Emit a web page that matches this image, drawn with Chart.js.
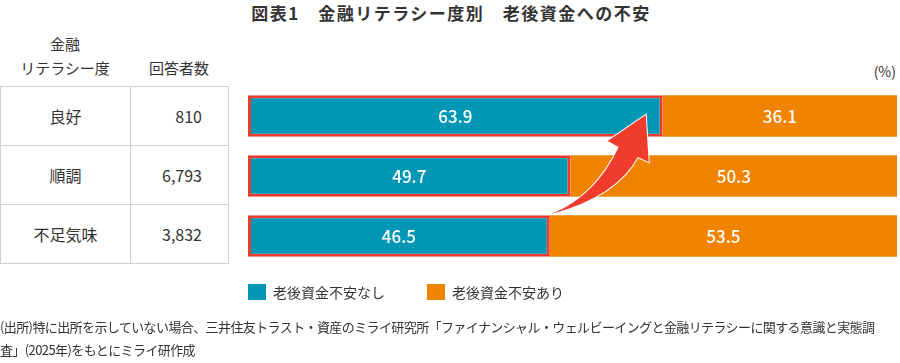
<!DOCTYPE html>
<html>
<head>
<meta charset="utf-8">
<title>金融リテラシー度別 老後資金への不安</title>
<script src="https://cdn.jsdelivr.net/npm/chart.js"></script>
<style>
  body { margin: 0; width: 900px; height: 363px; position: relative; background: #fff;
         font-family: "Noto Sans CJK JP", "Noto Sans", sans-serif; color: #333; overflow: hidden; }
  #chart { position: absolute; left: 0; top: 0; }
  .title { position: absolute; left: 1px; width: 900px; top: 0px; text-align: center;
           font-size: 17px; font-weight: 700; letter-spacing: 1.5px; }
  .head { position: absolute; font-size: 15px; text-align: center; line-height: 24px; }
  .unit { position: absolute; right: 4px; top: 61px; font-size: 14px; }
  table { position: absolute; left: 0; top: 86px; border-collapse: collapse; font-size: 16px; }
  td { border: 1px solid #cfcfcf; height: 58px; padding: 0; }
  td.cat { width: 129px; text-align: center; }
  td.num { width: 97px; text-align: right; padding-right: 0; }
  td.num span { margin-right: 26px; }
  .legend { position: absolute; top: 284px; font-size: 14px; line-height: 16px; }
  .legend i { display: inline-block; width: 18px; height: 16px; vertical-align: top; margin-right: 7px; }
  .note { position: absolute; left: 0; top: 315px; font-size: 13px; line-height: 23px;
          letter-spacing: -0.6px; white-space: nowrap; }
</style>
</head>
<body>
<div class="title">図表1　金融リテラシー度別　老後資金への不安</div>
<div class="head" style="left:0;width:130px;top:32px">金融<br>リテラシー度</div>
<div class="head" style="left:130px;width:98px;top:56px">回答者数</div>
<div class="unit">(%)</div>
<table id="tbl"></table>
<canvas id="chart" width="900" height="363"></canvas>
<div class="legend" id="legend"></div>
<div class="note">(出所)特に出所を示していない場合、三井住友トラスト・資産のミライ研究所「ファイナンシャル・ウェルビーイングと金融リテラシーに関する意識と実態調<br>査」(2025年)をもとにミライ研作成</div>

<script>
  var categories = ["良好", "順調", "不足気味"];
  var respondents = ["810", "6,793", "3,832"];
  var noAnxiety = [63.9, 49.7, 46.5];
  var anxiety = [36.1, 50.3, 53.5];
  var seriesNames = ["老後資金不安なし", "老後資金不安あり"];
  var colors = ["#0097b5", "#f08300"];
  var red = "#f03c2d";

  // table on the left
  var tbl = document.getElementById("tbl");
  categories.forEach(function (c, i) {
    var tr = document.createElement("tr");
    tr.innerHTML = '<td class="cat">' + c + '</td><td class="num"><span>' + respondents[i] + '</span></td>';
    tbl.appendChild(tr);
  });

  // legend
  var lg = document.getElementById("legend");
  lg.style.left = "248px";
  lg.innerHTML = '<i style="background:' + colors[0] + '"></i>' + seriesNames[0] +
    '<i style="background:' + colors[1] + ';margin-left:42px"></i>' + seriesNames[1];

  var labelPlugin = {
    id: "labels",
    afterDatasetsDraw: function (chart) {
      var ctx = chart.ctx;
      ctx.save();
      ctx.fillStyle = "#fff";
      ctx.font = "500 17px 'Noto Sans CJK JP', 'Noto Sans', sans-serif";
      ctx.textAlign = "center";
      ctx.textBaseline = "middle";
      chart.data.datasets.forEach(function (ds, di) {
        chart.getDatasetMeta(di).data.forEach(function (bar, i) {
          ctx.fillText(ds.data[i].toFixed(1), (bar.x + bar.base) / 2, bar.y + 1);
        });
      });
      ctx.restore();
    }
  };

  // curved arrow from the end of the bottom teal bar to the top one
  var arrowPlugin = {
    id: "arrow",
    afterDraw: function (chart) {
      var meta = chart.getDatasetMeta(0).data;
      var top = meta[0], low = meta[2];
      var S = { x: low.x + 1, y: low.y - low.height / 2 - 1 };
      var T = { x: top.x - 17, y: top.y - 1 };
      var ctx = chart.ctx;
      ctx.save();
      ctx.beginPath();
      ctx.moveTo(S.x, S.y);
      ctx.quadraticCurveTo(S.x + 45, S.y - 18, T.x - 27, T.y + 32);
      ctx.lineTo(T.x - 38, T.y + 26);
      ctx.lineTo(T.x, T.y);
      ctx.lineTo(T.x + 3, T.y + 47);
      ctx.lineTo(T.x - 8, T.y + 42);
      ctx.quadraticCurveTo(S.x + 66, S.y - 18, S.x, S.y);
      ctx.closePath();
      ctx.fillStyle = red;
      ctx.strokeStyle = "#fff";
      ctx.lineWidth = 2;
      ctx.lineJoin = "miter";
      ctx.stroke();
      ctx.fill();
      ctx.restore();
    }
  };

  new Chart(document.getElementById("chart"), {
    type: "bar",
    data: {
      labels: categories,
      datasets: [
        { label: seriesNames[0], data: noAnxiety, backgroundColor: colors[0],
          borderColor: red, borderWidth: 3, borderSkipped: false,
          barPercentage: 0.69, categoryPercentage: 1 },
        { label: seriesNames[1], data: anxiety, backgroundColor: colors[1],
          borderWidth: 0, barPercentage: 0.69, categoryPercentage: 1 }
      ]
    },
    options: {
      indexAxis: "y",
      responsive: false,
      animation: false,
      layout: { padding: { left: 248, right: 3, top: 86, bottom: 97 } },
      scales: {
        x: { stacked: true, min: 0, max: 100, display: false },
        y: { stacked: true, display: false }
      },
      plugins: { legend: { display: false }, tooltip: { enabled: false } }
    },
    plugins: [labelPlugin, arrowPlugin]
  });
</script>
</body>
</html>
